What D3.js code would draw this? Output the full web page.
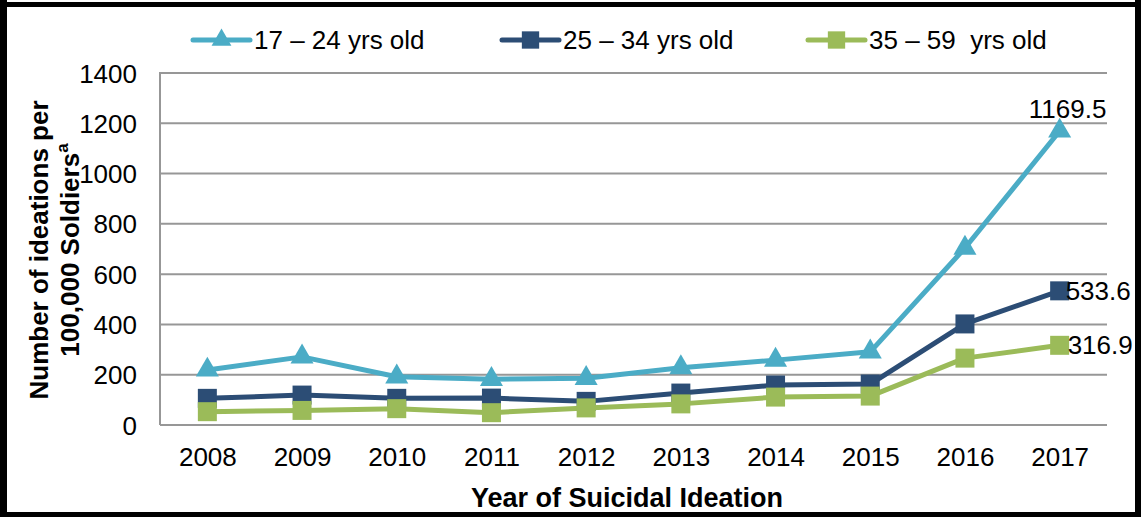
<!DOCTYPE html>
<html>
<head>
<meta charset="utf-8">
<script src="https://cdn.jsdelivr.net/npm/d3@7"></script>
<style>
  html, body { margin: 0; padding: 0; background: #fff; }
  svg { display: block; font-family: "Liberation Sans", Arial, sans-serif; }
</style>
</head>
<body>
<svg id="chart" width="1141" height="517"></svg>
<script>
const years = ["2008","2009","2010","2011","2012","2013","2014","2015","2016","2017"];
const age17_24 = [219, 271, 192, 182, 186, 228, 258, 291, 704, 1169.5];
const age25_34 = [106, 119, 106, 107, 94, 127, 159, 163, 402, 533.6];
const age35_59 = [53, 58, 65, 49, 68, 84, 111, 115, 266, 316.9];
const seriesNames = ["17 \u2013 24 yrs old", "25 \u2013 34 yrs old", "35 \u2013 59  yrs old"];
const yTicks = [0, 200, 400, 600, 800, 1000, 1200, 1400];
const labelValues = ["1169.5", "533.6", "316.9"];

const series = [
  { name: seriesNames[0], values: age17_24, color: "#4BACC6", shape: "triangle", label: labelValues[0] },
  { name: seriesNames[1], values: age25_34, color: "#2C4D75", shape: "square", label: labelValues[1] },
  { name: seriesNames[2], values: age35_59, color: "#9BBB59", shape: "square", label: labelValues[2] }
];

const svg = d3.select("#chart");
const pLeft = 160, pRight = 1107, pTop = 73, pBottom = 425;

const x = d3.scalePoint().domain(years).range([pLeft, pRight]).padding(0.5);
const y = d3.scaleLinear().domain([0, 1400]).range([pBottom, pTop]);

// gridlines
svg.append("g").selectAll("line").data(yTicks.filter(d => d > 0)).join("line")
  .attr("x1", pLeft).attr("x2", pRight)
  .attr("y1", d => y(d)).attr("y2", d => y(d))
  .attr("stroke", "#979797").attr("stroke-width", 2);

// axes lines
svg.append("line").attr("x1", pLeft).attr("x2", pLeft).attr("y1", pTop - 1).attr("y2", pBottom)
  .attr("stroke", "#979797").attr("stroke-width", 2);
svg.append("line").attr("x1", pLeft).attr("x2", pRight).attr("y1", pBottom).attr("y2", pBottom)
  .attr("stroke", "#979797").attr("stroke-width", 2);

// y axis labels
const yAxis = d3.axisLeft(y).tickValues(yTicks).tickSize(0).tickPadding(23).tickFormat(d3.format("d"));
const gy = svg.append("g").attr("transform", `translate(${pLeft},0)`).call(yAxis);
gy.select(".domain").remove();
gy.selectAll("text").attr("font-size", 26).attr("fill", "#000")
  .attr("font-family", "Liberation Sans, Arial, sans-serif").attr("dy", "0.35em");

// x axis labels
const xAxis = d3.axisBottom(x).tickSize(0).tickPadding(0);
const gx = svg.append("g").attr("transform", `translate(0,${pBottom})`).call(xAxis);
gx.select(".domain").remove();
gx.selectAll("text").attr("font-size", 26).attr("fill", "#000")
  .attr("font-family", "Liberation Sans, Arial, sans-serif").attr("dy", null).attr("y", 41);

// titles
svg.append("text").attr("x", 627).attr("y", 507).attr("text-anchor", "middle")
  .attr("font-size", 27).attr("font-weight", "bold").text("Year of Suicidal Ideation");

const yt = svg.append("text").attr("transform", "translate(48,250) rotate(-90)")
  .attr("text-anchor", "middle").attr("font-size", 26).attr("font-weight", "bold");
yt.append("tspan").attr("x", 0).attr("y", 0).text("Number of ideations per");
yt.append("tspan").attr("x", 0).attr("y", 31).text("100,000 Soldiers");
yt.append("tspan").attr("font-size", 17).attr("dy", -11).text("a");

const sym = s => s === "triangle"
  ? d3.symbol().type(d3.symbolTriangle).size(230)()
  : d3.symbol().type(d3.symbolSquare).size(361)();

const line = d3.line().x((d, i) => x(years[i])).y(d => y(d));

series.forEach(s => {
  const g = svg.append("g");
  g.append("path").attr("d", line(s.values)).attr("fill", "none")
    .attr("stroke", s.color).attr("stroke-width", 5).attr("stroke-linejoin", "round");
  g.selectAll("path.m").data(s.values).join("path").attr("class", "m")
    .attr("d", sym(s.shape))
    .attr("transform", (d, i) => `translate(${x(years[i])},${y(d)})`)
    .attr("fill", s.color);
});

// data labels
const lastIdx = years.length - 1;
svg.append("text").attr("x", x(years[lastIdx]) + 8).attr("y", y(age17_24[lastIdx]) - 13)
  .attr("text-anchor", "middle").attr("font-size", 26).text(labelValues[0]);
svg.append("text").attr("x", x(years[lastIdx]) + 6).attr("y", y(age25_34[lastIdx]))
  .attr("dy", "0.35em").attr("font-size", 26).text(labelValues[1]);
svg.append("text").attr("x", x(years[lastIdx]) + 8).attr("y", y(age35_59[lastIdx]))
  .attr("dy", "0.35em").attr("font-size", 26).text(labelValues[2]);

// legend
const legendX = [193, 502, 808];
series.forEach((s, i) => {
  const g = svg.append("g").attr("transform", `translate(${legendX[i]},40)`);
  g.append("line").attr("x1", 0).attr("x2", 57).attr("y1", 0).attr("y2", 0)
    .attr("stroke", s.color).attr("stroke-width", 5).attr("stroke-linecap", "round");
  g.append("path").attr("d", s.shape === "triangle"
      ? d3.symbol().type(d3.symbolTriangle).size(170)()
      : d3.symbol().type(d3.symbolSquare).size(300)())
    .attr("transform", "translate(28.5,0)").attr("fill", s.color);
  g.append("text").attr("x", 61).attr("y", 9).attr("font-size", 26)
    .style("white-space", "pre").text(s.name);
});

// outer border
svg.append("rect").attr("x", 0).attr("y", 0).attr("width", 7).attr("height", 517).attr("fill", "#000");
svg.append("rect").attr("x", 0).attr("y", 2).attr("width", 1141).attr("height", 5).attr("fill", "#000");
svg.append("rect").attr("x", 1135).attr("y", 0).attr("width", 6).attr("height", 517).attr("fill", "#000");
svg.append("rect").attr("x", 0).attr("y", 512).attr("width", 1141).attr("height", 5).attr("fill", "#000");
</script>
</body>
</html>
